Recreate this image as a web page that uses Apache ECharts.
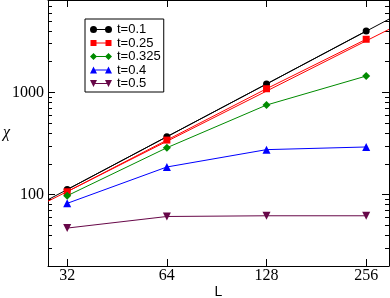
<!DOCTYPE html>
<html>
<head>
<meta charset="utf-8">
<script src="https://cdn.jsdelivr.net/npm/echarts@6/dist/echarts.min.js"></script>
<style>html,body{margin:0;padding:0;background:#fff}#c{width:390px;height:298px}</style>
</head>
<body>
<div id="c"></div>
<script>
// ---- data ----
var L = [32, 64, 128, 256];
var chi_t01 = [112, 368, 1206, 3981];
var chi_t025 = [106.5, 341, 1084, 3304];
var chi_t0325 = [97.3, 287, 751, 1443];
var chi_t04 = [82, 186, 275, 292];
var chi_t05 = [47, 61, 62, 62];
// straight-line fits (end points at the axis limits)
var fitL = [28, 300];
var fit_t01 = [89, 5200];
var fit_t025 = [86, 4130];
var xTickLabels = [32, 64, 128, 256];
var yTickLabels = [100, 1000];
var seriesNames = ['t=0.1', 't=0.25', 't=0.325', 't=0.4', 't=0.5'];

function pairs(xs, ys) { return xs.map(function (x, i) { return [x, ys[i]]; }); }

var colors = ['#000000', '#ff0000', '#008b00', '#0000ff', '#670748'];
var symbols = ['circle', 'rect', 'diamond', 'triangle', 'path://M0,0 L10,0 L5,10 Z'];
var sizes = [7, 7, 8, 8, 8];
var line = 'M3.5,3 L18.5,3 L18.5,4 L3.5,4 Z ';
var icons = [
  'path://' + line + 'M0,3.5 A3.5,3.5 0 1,1 7,3.5 A3.5,3.5 0 1,1 0,3.5 Z M15,3.5 A3.5,3.5 0 1,1 22,3.5 A3.5,3.5 0 1,1 15,3.5 Z',
  'path://' + line + 'M0.5,0.5 L6.5,0.5 L6.5,6.5 L0.5,6.5 Z M15.5,0.5 L21.5,0.5 L21.5,6.5 L15.5,6.5 Z M0,0 L0,0 Z M22,7 L22,7 Z',
  'path://' + line + 'M3.5,0 L7,3.5 L3.5,7 L0,3.5 Z M18.5,0 L22,3.5 L18.5,7 L15,3.5 Z',
  'path://' + line + 'M3.5,0 L7,7 L0,7 Z M18.5,0 L22,7 L15,7 Z',
  'path://' + line + 'M0,0 L7,0 L3.5,7 Z M15,0 L22,0 L18.5,7 Z'
];
var dataSets = [chi_t01, chi_t025, chi_t0325, chi_t04, chi_t05];

var serifFont = 'Liberation Serif';
var sansFont = 'Liberation Sans';
var tickStyle = { show: true, inside: true, length: 7, lineStyle: { color: '#000', width: 1 } };
var minorStyle = { show: true, splitNumber: 9, length: 4, lineStyle: { color: '#000', width: 1 } };
var axisLine = { show: true, onZero: false, lineStyle: { color: '#000', width: 1 } };

function xFmt(v) { return xTickLabels.indexOf(Math.round(v)) >= 0 ? String(Math.round(v)) : ''; }
function yFmt(v) { return yTickLabels.indexOf(Math.round(v)) >= 0 ? String(Math.round(v)) : ''; }

var series = [
  { name: 'fit1', type: 'line', data: pairs(fitL, fit_t01), showSymbol: false, symbol: 'none',
    lineStyle: { color: '#000', width: 1 }, z: 1, silent: true },
  { name: 'fit2', type: 'line', data: pairs(fitL, fit_t025), showSymbol: false, symbol: 'none',
    lineStyle: { color: '#ff0000', width: 1 }, z: 1, silent: true }
];
dataSets.forEach(function (d, i) {
  series.push({
    name: seriesNames[i], type: 'line', data: pairs(L, d),
    symbol: symbols[i], symbolSize: sizes[i],
    itemStyle: { color: colors[i], borderWidth: 0 },
    lineStyle: { color: colors[i], width: 1 },
    z: 2 + i
  });
});

var chart = echarts.init(document.getElementById('c'), null, { renderer: 'canvas' });
chart.setOption({
  animation: false,
  backgroundColor: '#fff',
  grid: { left: 48, right: 1, top: 0, bottom: 32, containLabel: false, outerBoundsMode: 'none' },
  legend: {
    orient: 'vertical', left: 85, top: 19,
    padding: [4, 3, 2, 5],
    borderColor: '#000', borderWidth: 1,
    itemWidth: 22, itemHeight: 7, itemGap: 0.5,
    itemStyle: { borderWidth: 0 },
    textStyle: { fontFamily: sansFont, fontSize: 13, color: '#000', lineHeight: 13 },
    data: seriesNames.map(function (n, i) { return { name: n, icon: icons[i] }; })
  },
  xAxis: [
    { type: 'log', logBase: 2, min: 28, max: 300, position: 'bottom',
      axisLine: axisLine, axisTick: tickStyle, splitLine: { show: false },
      axisLabel: { show: true, margin: 2, fontFamily: serifFont, fontSize: 16, color: '#000',
        formatter: xFmt, showMinLabel: false, showMaxLabel: false },
      name: 'L', nameLocation: 'middle', nameGap: 19, nameMoveOverlap: false,
      nameTextStyle: { fontFamily: sansFont, fontSize: 14, color: '#000' } },
    { type: 'log', logBase: 2, min: 28, max: 300, position: 'top',
      axisLine: axisLine, axisTick: tickStyle, splitLine: { show: false },
      axisLabel: { show: false } }
  ],
  yAxis: [
    { type: 'log', logBase: 10, min: 20, max: 8000, position: 'left',
      axisLine: axisLine, axisTick: tickStyle, minorTick: minorStyle,
      splitLine: { show: false }, minorSplitLine: { show: false },
      axisLabel: { show: true, margin: 4, fontFamily: serifFont, fontSize: 16, color: '#000',
        formatter: yFmt, showMinLabel: false, showMaxLabel: false },
      name: 'χ', nameLocation: 'middle', nameGap: 38, nameRotate: 0, nameMoveOverlap: false,
      nameTextStyle: { fontFamily: serifFont, fontStyle: 'italic', fontSize: 16, color: '#000' } },
    { type: 'log', logBase: 10, min: 20, max: 8000, position: 'right',
      axisLine: axisLine, axisTick: tickStyle, minorTick: minorStyle,
      splitLine: { show: false }, minorSplitLine: { show: false },
      axisLabel: { show: false } }
  ],
  series: series
});
</script>
</body>
</html>
